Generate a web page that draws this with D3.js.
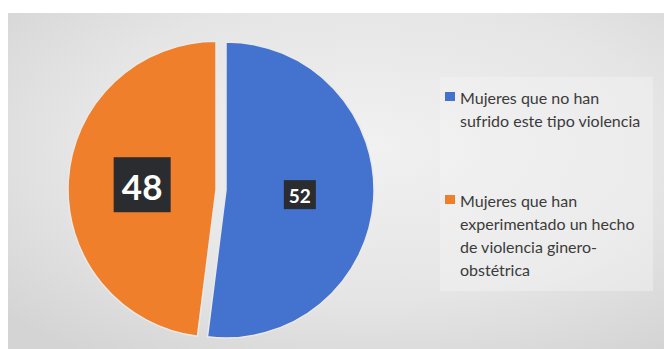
<!DOCTYPE html>
<html>
<head>
<meta charset="utf-8">
<script src="https://cdn.jsdelivr.net/npm/d3@7/dist/d3.min.js"></script>
<style>
  html, body { margin: 0; padding: 0; background: #ffffff; }
  svg { display: block; }
</style>
</head>
<body>
<svg id="chart" width="664" height="349"></svg>
<script>
// Chart data
const categories = [
  "Mujeres que no han sufrido este tipo violencia",
  "Mujeres que han experimentado un hecho de violencia ginero-obstétrica"
];
const values = [52, 48];
const legendLines = [
  ["Mujeres que no han", "sufrido este tipo violencia"],
  ["Mujeres que han", "experimentado un hecho", "de violencia ginero-", "obstétrica"]
];

// Styling
const palette = ["#4372cf", "#f07f2c"];
const explode = [0, 10];
const labelFont = [19, 35];
const labelBox = [[32, 29], [57, 55]];

const W = 664, H = 349;
const svg = d3.select("#chart");

// Panel background with a soft radial sheen
const defs = svg.append("defs");
const bg = defs.append("radialGradient")
  .attr("id", "panelGrad")
  .attr("cx", "0.55").attr("cy", "0.4").attr("r", "0.75");
bg.append("stop").attr("offset", "0%").attr("stop-color", "#f1f1f1");
bg.append("stop").attr("offset", "60%").attr("stop-color", "#e5e5e5");
bg.append("stop").attr("offset", "100%").attr("stop-color", "#d4d4d4");

svg.append("rect").attr("x", 0).attr("y", 0).attr("width", W).attr("height", H).attr("fill", "#ffffff");
svg.append("rect").attr("x", 8).attr("y", 13).attr("width", W - 8).attr("height", H - 13)
  .attr("fill", "url(#panelGrad)");

// Slightly lighter legend area
svg.append("rect").attr("x", 440).attr("y", 77).attr("width", 213).attr("height", 214)
  .attr("fill", "#f4f4f4").attr("opacity", 0.45);

// Pie
const cx = 226, cy = 190, r = 148;
const pie = d3.pie().sort(null).value(d => d).startAngle(0).endAngle(2 * Math.PI);
const arcs = pie(values);
const arc = d3.arc().innerRadius(0).outerRadius(r);

const offset = (d, i) => {
  const mid = (d.startAngle + d.endAngle) / 2;
  return [Math.sin(mid) * explode[i], -Math.cos(mid) * explode[i]];
};

const g = svg.append("g").attr("transform", `translate(${cx},${cy})`);

g.selectAll("path.slice")
  .data(arcs)
  .join("path")
  .attr("class", "slice")
  .attr("transform", (d, i) => { const o = offset(d, i); return `translate(${o[0]},${o[1]})`; })
  .attr("d", arc)
  .attr("fill", (d, i) => palette[i])
  .attr("stroke", "#e9e9e9")
  .attr("stroke-width", 1.5)
  .attr("stroke-linejoin", "round");

// Value labels in dark boxes
const labels = g.selectAll("g.lbl")
  .data(arcs)
  .join("g")
  .attr("class", "lbl")
  .attr("transform", (d, i) => {
    const c = arc.centroid(d), o = offset(d, i);
    return `translate(${c[0] + o[0]},${c[1] + o[1]})`;
  });

labels.append("rect")
  .attr("x", (d, i) => -labelBox[i][0] / 2)
  .attr("y", (d, i) => -labelBox[i][1] / 2)
  .attr("width", (d, i) => labelBox[i][0])
  .attr("height", (d, i) => labelBox[i][1])
  .attr("fill", "#2a2c30");

labels.append("text")
  .attr("text-anchor", "middle")
  .attr("dominant-baseline", "central")
  .attr("y", 1)
  .attr("fill", "#ffffff")
  .attr("font-family", "Lato, 'Open Sans', sans-serif")
  .attr("font-weight", 700)
  .attr("font-size", (d, i) => labelFont[i])
  .text(d => d.value);

// Legend
const legendX = 445, textX = 460;
const legendTop = [97, 200];
const lineH = 23;

const leg = svg.append("g").selectAll("g.item")
  .data(categories)
  .join("g")
  .attr("class", "item");

leg.append("rect")
  .attr("x", legendX)
  .attr("y", (d, i) => legendTop[i] - 5)
  .attr("width", 10)
  .attr("height", 9)
  .attr("fill", (d, i) => palette[i]);

leg.each(function (d, i) {
  d3.select(this).selectAll("text")
    .data(legendLines[i])
    .join("text")
    .attr("x", textX)
    .attr("y", (t, j) => legendTop[i] + j * lineH)
    .attr("dominant-baseline", "central")
    .attr("fill", "#3b3b3b")
    .attr("font-family", "Lato, 'Open Sans', sans-serif")
    .attr("font-size", 16)
    .text(t => t);
});
</script>
</body>
</html>
